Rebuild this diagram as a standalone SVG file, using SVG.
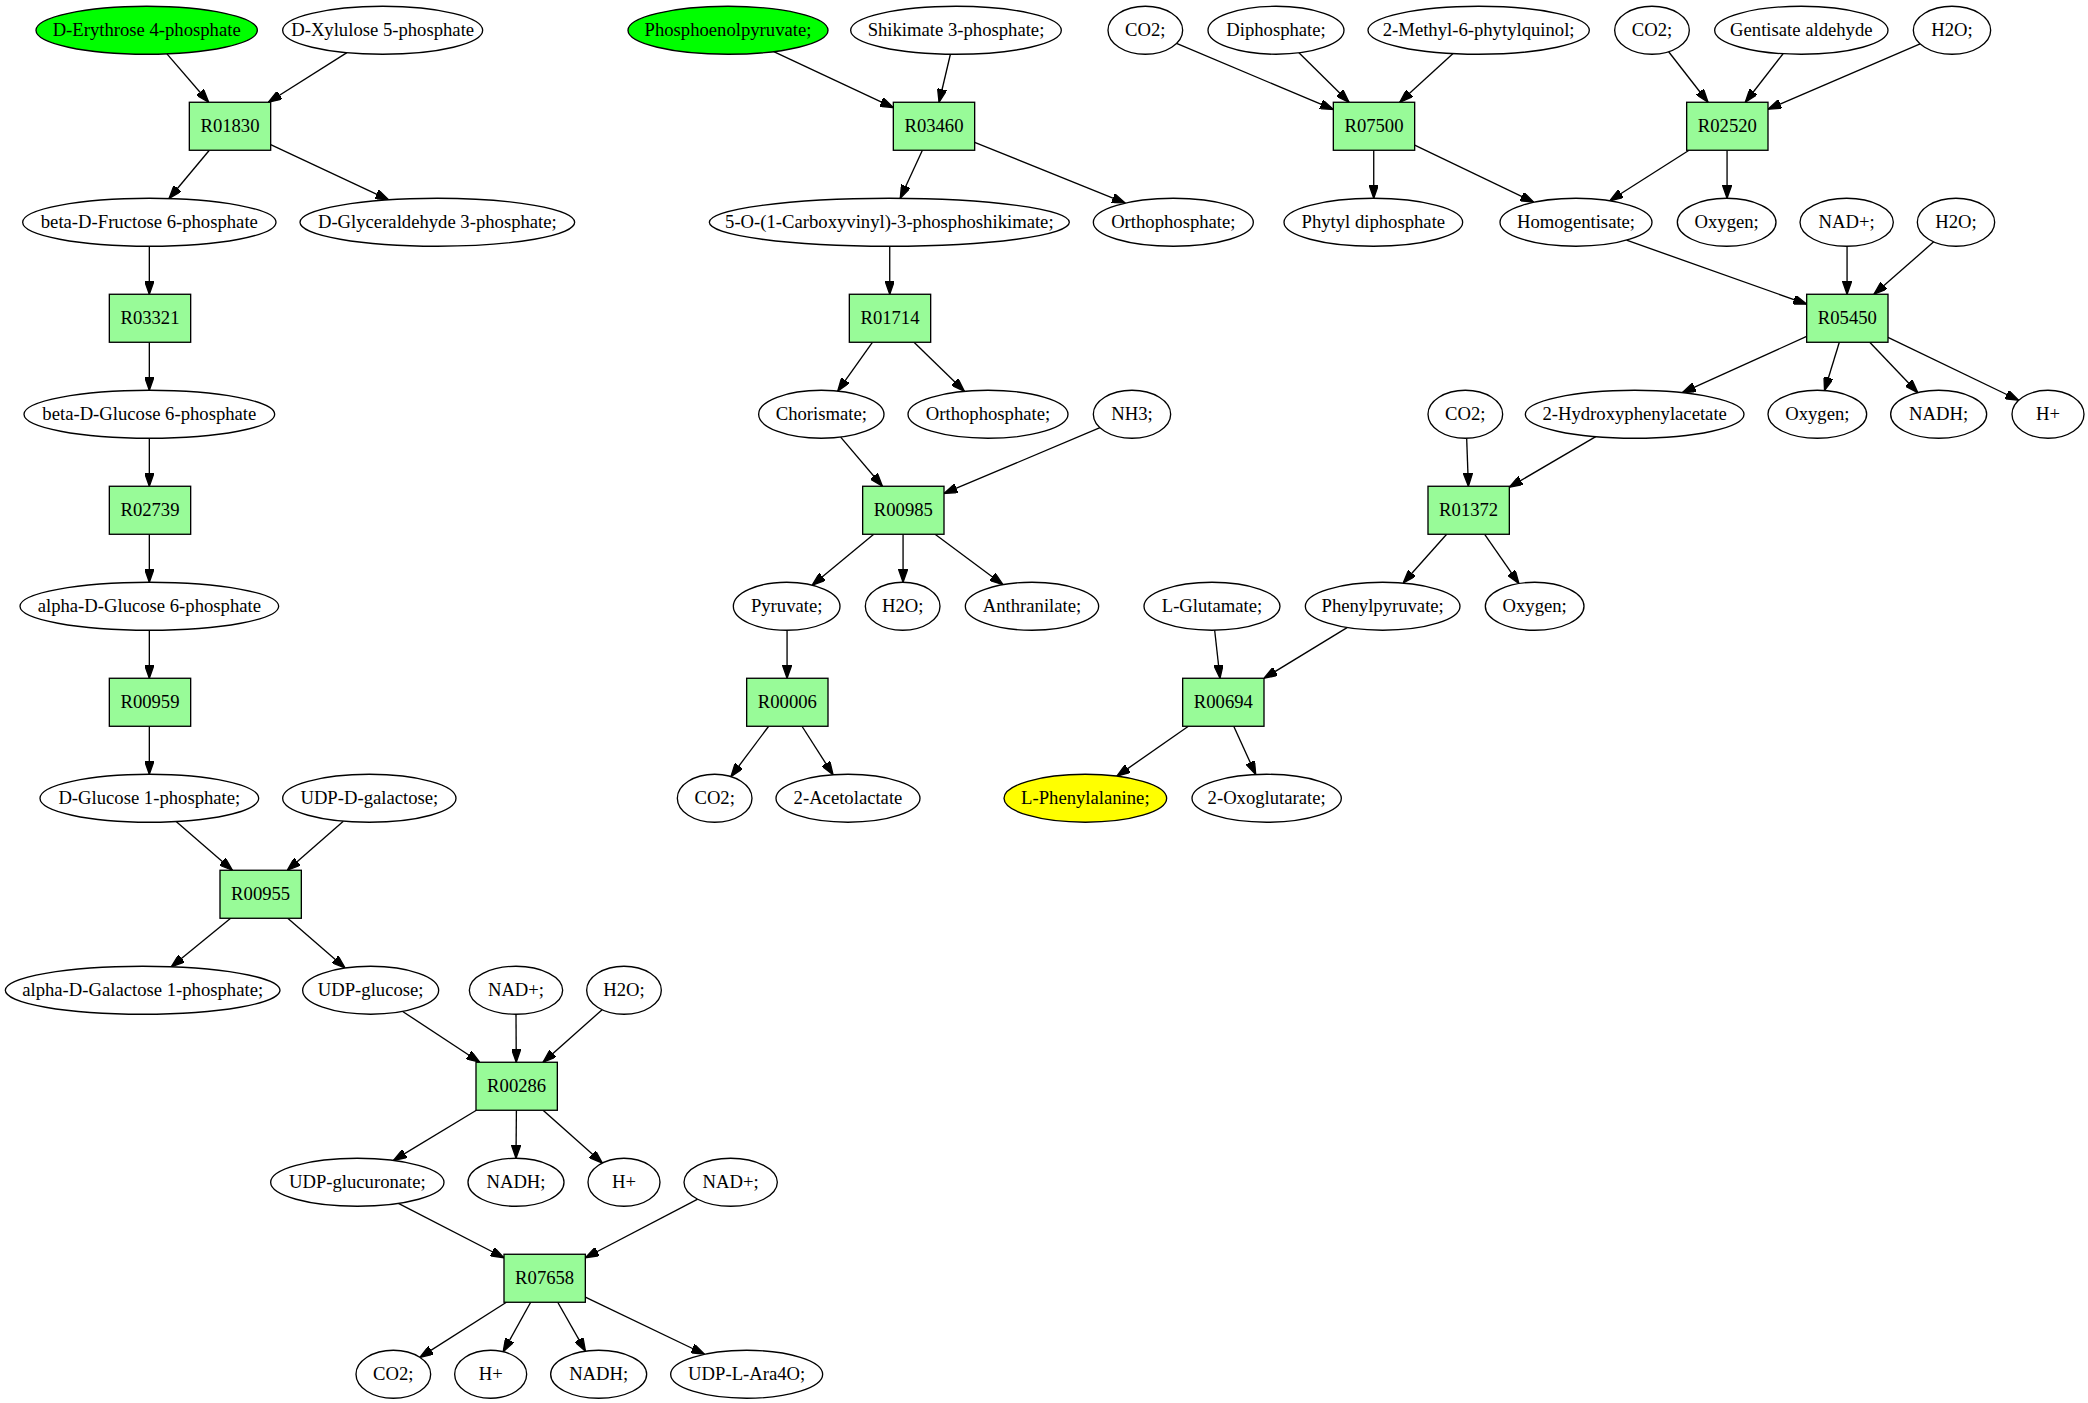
<svg xmlns="http://www.w3.org/2000/svg" width="2088" height="1403" viewBox="0 0 2088 1403">
<defs>
<style>
.n ellipse{fill:#fff;stroke:#000;stroke-width:1}
.n.g ellipse{fill:#00ff00}
.n.y ellipse{fill:#ffff00}
.r rect{fill:#98fb98;stroke:#000;stroke-width:1}
text{font-family:"Liberation Serif","Times New Roman",serif;font-size:14px;text-anchor:middle;fill:#000}
#edges path{fill:none;stroke:#000;stroke-width:1;marker-end:url(#ah)}
</style>
<marker id="ah" markerWidth="10" markerHeight="7" refX="10" refY="3.5" orient="auto" markerUnits="userSpaceOnUse"><path d="M0,0 L10,3.5 L0,7 z" fill="#000" stroke="#000" stroke-width="1"/></marker>
</defs>
<rect width="2088" height="1403" fill="#fff"/>
<g transform="scale(1.33333) translate(0 0.7)">
<g id="edges">
<path d="M125.2,39.7 L156.5,76"/>
<path d="M260.2,38.8 L201.3,76"/>
<path d="M157,112 L126.8,148.2"/>
<path d="M203,107.8 L291.5,149.2"/>
<path d="M112,184 L112,220"/>
<path d="M112,256 L112,292"/>
<path d="M112,328 L112,364"/>
<path d="M112,400 L112,436"/>
<path d="M112,472 L112,508"/>
<path d="M112,544 L112,580"/>
<path d="M132.1,615.5 L174.3,652"/>
<path d="M257.5,615.2 L215.5,652"/>
<path d="M173,688 L128.5,724.4"/>
<path d="M215.8,688 L258.8,725.3"/>
<path d="M302,757.9 L359.8,796"/>
<path d="M387,760 L387.2,796"/>
<path d="M451.6,756.6 L407.3,796"/>
<path d="M357.3,832 L295.1,869.6"/>
<path d="M387.3,832 L387,868"/>
<path d="M407.3,832 L451.8,871.6"/>
<path d="M298.8,901.8 L378,942.6"/>
<path d="M523.3,898.7 L439,942.6"/>
<path d="M379.8,976 L314.9,1017.3"/>
<path d="M398,976 L377.4,1013.1"/>
<path d="M418.3,976 L439.1,1012.7"/>
<path d="M439,972.2 L528.4,1015"/>
<path d="M580.3,38 L670,80"/>
<path d="M712.8,40 L704.3,76"/>
<path d="M691.8,112 L675.2,148"/>
<path d="M731,106 L844,151.6"/>
<path d="M667.3,184 L667.3,220"/>
<path d="M654.3,256 L628.3,292.6"/>
<path d="M685.5,256 L723.3,292.8"/>
<path d="M630.5,327.1 L661.8,364"/>
<path d="M825,320.1 L708,369.4"/>
<path d="M655.3,400 L609.1,438.2"/>
<path d="M677.3,400 L677.3,436"/>
<path d="M701.3,400 L752.2,437.8"/>
<path d="M590.3,472 L590.3,508"/>
<path d="M576.5,544 L548.2,581.8"/>
<path d="M601.5,544 L624.8,580.4"/>
<path d="M882.4,31.9 L1000,81.4"/>
<path d="M974.2,38.9 L1011.8,76"/>
<path d="M1089.8,39.5 L1049.8,76"/>
<path d="M1030.3,112 L1030.3,148"/>
<path d="M1061,108.2 L1150.4,151"/>
<path d="M1251.5,38.1 L1281,76"/>
<path d="M1337.3,39.6 L1309,76"/>
<path d="M1440.1,32.2 L1326,81.2"/>
<path d="M1266.8,112 L1207.3,149.9"/>
<path d="M1295.3,112 L1295.3,148"/>
<path d="M1219.9,179.4 L1355,227.4"/>
<path d="M1385.3,184 L1385.3,220"/>
<path d="M1450.3,180.7 L1405.5,220"/>
<path d="M1355,251.6 L1261.8,293.8"/>
<path d="M1379.5,256 L1368.4,292.2"/>
<path d="M1402.3,256 L1438.4,293.8"/>
<path d="M1416,252.3 L1514,299.5"/>
<path d="M1100,328 L1101.3,364"/>
<path d="M1196.8,326.8 L1132,364.7"/>
<path d="M1085,400 L1052.4,436.6"/>
<path d="M1113.5,400 L1139.2,437"/>
<path d="M911,472 L915,508"/>
<path d="M1010.3,470 L948,508"/>
<path d="M891.3,544 L837.7,581.4"/>
<path d="M925.3,544 L941.8,580.2"/>
</g>
<g id="n_e4p" class="n g"><ellipse cx="110" cy="22" rx="83" ry="18"/><text x="110" y="26.5">D-Erythrose 4-phosphate</text></g>
<g id="n_xu5p" class="n"><ellipse cx="287" cy="22" rx="75" ry="18"/><text x="287" y="26.5">D-Xylulose 5-phosphate</text></g>
<g id="n_pep" class="n g"><ellipse cx="546" cy="22" rx="75" ry="18"/><text x="546" y="26.5">Phosphoenolpyruvate;</text></g>
<g id="n_s3p" class="n"><ellipse cx="717" cy="22" rx="79" ry="18"/><text x="717" y="26.5">Shikimate 3-phosphate;</text></g>
<g id="n_co2a" class="n"><ellipse cx="859" cy="22" rx="28" ry="18"/><text x="859" y="26.5">CO2;</text></g>
<g id="n_ppi" class="n"><ellipse cx="957" cy="22" rx="51" ry="18"/><text x="957" y="26.5">Diphosphate;</text></g>
<g id="n_mpq" class="n"><ellipse cx="1109" cy="22" rx="83" ry="18"/><text x="1109" y="26.5">2-Methyl-6-phytylquinol;</text></g>
<g id="n_co2b" class="n"><ellipse cx="1239" cy="22" rx="28" ry="18"/><text x="1239" y="26.5">CO2;</text></g>
<g id="n_gald" class="n"><ellipse cx="1351" cy="22" rx="65" ry="18"/><text x="1351" y="26.5">Gentisate aldehyde</text></g>
<g id="n_h2oa" class="n"><ellipse cx="1464" cy="22" rx="29" ry="18"/><text x="1464" y="26.5">H2O;</text></g>
<g id="R01830" class="r"><rect x="142" y="76" width="61" height="36"/><text x="172.5" y="98.5">R01830</text></g>
<g id="R03460" class="r"><rect x="670" y="76" width="61" height="36"/><text x="700.5" y="98.5">R03460</text></g>
<g id="R07500" class="r"><rect x="1000" y="76" width="61" height="36"/><text x="1030.5" y="98.5">R07500</text></g>
<g id="R02520" class="r"><rect x="1265" y="76" width="61" height="36"/><text x="1295.5" y="98.5">R02520</text></g>
<g id="n_f6p" class="n"><ellipse cx="112" cy="166" rx="95" ry="18"/><text x="112" y="170.5">beta-D-Fructose 6-phosphate</text></g>
<g id="n_g3p" class="n"><ellipse cx="328" cy="166" rx="103" ry="18"/><text x="328" y="170.5">D-Glyceraldehyde 3-phosphate;</text></g>
<g id="n_epsp" class="n"><ellipse cx="667" cy="166" rx="135" ry="18"/><text x="667" y="170.5">5-O-(1-Carboxyvinyl)-3-phosphoshikimate;</text></g>
<g id="n_pia" class="n"><ellipse cx="880" cy="166" rx="60" ry="18"/><text x="880" y="170.5">Orthophosphate;</text></g>
<g id="n_phpp" class="n"><ellipse cx="1030" cy="166" rx="67" ry="18"/><text x="1030" y="170.5">Phytyl diphosphate</text></g>
<g id="n_hga" class="n"><ellipse cx="1182" cy="166" rx="57" ry="18"/><text x="1182" y="170.5">Homogentisate;</text></g>
<g id="n_o2a" class="n"><ellipse cx="1295" cy="166" rx="37" ry="18"/><text x="1295" y="170.5">Oxygen;</text></g>
<g id="n_nada" class="n"><ellipse cx="1385" cy="166" rx="35" ry="18"/><text x="1385" y="170.5">NAD+;</text></g>
<g id="n_h2ob" class="n"><ellipse cx="1467" cy="166" rx="29" ry="18"/><text x="1467" y="170.5">H2O;</text></g>
<g id="R03321" class="r"><rect x="82" y="220" width="61" height="36"/><text x="112.5" y="242.5">R03321</text></g>
<g id="R01714" class="r"><rect x="637" y="220" width="61" height="36"/><text x="667.5" y="242.5">R01714</text></g>
<g id="R05450" class="r"><rect x="1355" y="220" width="61" height="36"/><text x="1385.5" y="242.5">R05450</text></g>
<g id="n_bg6p" class="n"><ellipse cx="112" cy="310" rx="94" ry="18"/><text x="112" y="314.5">beta-D-Glucose 6-phosphate</text></g>
<g id="n_chor" class="n"><ellipse cx="616" cy="310" rx="47" ry="18"/><text x="616" y="314.5">Chorismate;</text></g>
<g id="n_pib" class="n"><ellipse cx="741" cy="310" rx="60" ry="18"/><text x="741" y="314.5">Orthophosphate;</text></g>
<g id="n_nh3" class="n"><ellipse cx="849" cy="310" rx="29" ry="18"/><text x="849" y="314.5">NH3;</text></g>
<g id="n_co2c" class="n"><ellipse cx="1099" cy="310" rx="28" ry="18"/><text x="1099" y="314.5">CO2;</text></g>
<g id="n_2hpa" class="n"><ellipse cx="1226" cy="310" rx="82" ry="18"/><text x="1226" y="314.5">2-Hydroxyphenylacetate</text></g>
<g id="n_o2b" class="n"><ellipse cx="1363" cy="310" rx="37" ry="18"/><text x="1363" y="314.5">Oxygen;</text></g>
<g id="n_nadha" class="n"><ellipse cx="1454" cy="310" rx="36" ry="18"/><text x="1454" y="314.5">NADH;</text></g>
<g id="n_hpa" class="n"><ellipse cx="1536" cy="310" rx="27" ry="18"/><text x="1536" y="314.5">H+</text></g>
<g id="R02739" class="r"><rect x="82" y="364" width="61" height="36"/><text x="112.5" y="386.5">R02739</text></g>
<g id="R00985" class="r"><rect x="647" y="364" width="61" height="36"/><text x="677.5" y="386.5">R00985</text></g>
<g id="R01372" class="r"><rect x="1071" y="364" width="61" height="36"/><text x="1101.5" y="386.5">R01372</text></g>
<g id="n_ag6p" class="n"><ellipse cx="112" cy="454" rx="97" ry="18"/><text x="112" y="458.5">alpha-D-Glucose 6-phosphate</text></g>
<g id="n_pyr" class="n"><ellipse cx="590" cy="454" rx="40" ry="18"/><text x="590" y="458.5">Pyruvate;</text></g>
<g id="n_h2oc" class="n"><ellipse cx="677" cy="454" rx="28" ry="18"/><text x="677" y="458.5">H2O;</text></g>
<g id="n_anth" class="n"><ellipse cx="774" cy="454" rx="50" ry="18"/><text x="774" y="458.5">Anthranilate;</text></g>
<g id="n_glu" class="n"><ellipse cx="909" cy="454" rx="51" ry="18"/><text x="909" y="458.5">L-Glutamate;</text></g>
<g id="n_ppyr" class="n"><ellipse cx="1037" cy="454" rx="58" ry="18"/><text x="1037" y="458.5">Phenylpyruvate;</text></g>
<g id="n_o2c" class="n"><ellipse cx="1151" cy="454" rx="37" ry="18"/><text x="1151" y="458.5">Oxygen;</text></g>
<g id="R00959" class="r"><rect x="82" y="508" width="61" height="36"/><text x="112.5" y="530.5">R00959</text></g>
<g id="R00006" class="r"><rect x="560" y="508" width="61" height="36"/><text x="590.5" y="530.5">R00006</text></g>
<g id="R00694" class="r"><rect x="887" y="508" width="61" height="36"/><text x="917.5" y="530.5">R00694</text></g>
<g id="n_g1p" class="n"><ellipse cx="112" cy="598" rx="82" ry="18"/><text x="112" y="602.5">D-Glucose 1-phosphate;</text></g>
<g id="n_udpgal" class="n"><ellipse cx="277" cy="598" rx="65" ry="18"/><text x="277" y="602.5">UDP-D-galactose;</text></g>
<g id="n_co2d" class="n"><ellipse cx="536" cy="598" rx="28" ry="18"/><text x="536" y="602.5">CO2;</text></g>
<g id="n_acl" class="n"><ellipse cx="636" cy="598" rx="54" ry="18"/><text x="636" y="602.5">2-Acetolactate</text></g>
<g id="n_phe" class="n y"><ellipse cx="814" cy="598" rx="61" ry="18"/><text x="814" y="602.5">L-Phenylalanine;</text></g>
<g id="n_akg" class="n"><ellipse cx="950" cy="598" rx="56" ry="18"/><text x="950" y="602.5">2-Oxoglutarate;</text></g>
<g id="R00955" class="r"><rect x="165" y="652" width="61" height="36"/><text x="195.5" y="674.5">R00955</text></g>
<g id="n_gal1p" class="n"><ellipse cx="107" cy="742" rx="103" ry="18"/><text x="107" y="746.5">alpha-D-Galactose 1-phosphate;</text></g>
<g id="n_udpg" class="n"><ellipse cx="278" cy="742" rx="51" ry="18"/><text x="278" y="746.5">UDP-glucose;</text></g>
<g id="n_nadb" class="n"><ellipse cx="387" cy="742" rx="35" ry="18"/><text x="387" y="746.5">NAD+;</text></g>
<g id="n_h2od" class="n"><ellipse cx="468" cy="742" rx="28" ry="18"/><text x="468" y="746.5">H2O;</text></g>
<g id="R00286" class="r"><rect x="357" y="796" width="61" height="36"/><text x="387.5" y="818.5">R00286</text></g>
<g id="n_udpgla" class="n"><ellipse cx="268" cy="886" rx="65" ry="18"/><text x="268" y="890.5">UDP-glucuronate;</text></g>
<g id="n_nadhb" class="n"><ellipse cx="387" cy="886" rx="36" ry="18"/><text x="387" y="890.5">NADH;</text></g>
<g id="n_hpb" class="n"><ellipse cx="468" cy="886" rx="27" ry="18"/><text x="468" y="890.5">H+</text></g>
<g id="n_nadc" class="n"><ellipse cx="548" cy="886" rx="35" ry="18"/><text x="548" y="890.5">NAD+;</text></g>
<g id="R07658" class="r"><rect x="378" y="940" width="61" height="36"/><text x="408.5" y="962.5">R07658</text></g>
<g id="n_co2e" class="n"><ellipse cx="295" cy="1030" rx="28" ry="18"/><text x="295" y="1034.5">CO2;</text></g>
<g id="n_hpc" class="n"><ellipse cx="368" cy="1030" rx="27" ry="18"/><text x="368" y="1034.5">H+</text></g>
<g id="n_nadhc" class="n"><ellipse cx="449" cy="1030" rx="36" ry="18"/><text x="449" y="1034.5">NADH;</text></g>
<g id="n_ara" class="n"><ellipse cx="560" cy="1030" rx="57" ry="18"/><text x="560" y="1034.5">UDP-L-Ara4O;</text></g>
</g>
</svg>
